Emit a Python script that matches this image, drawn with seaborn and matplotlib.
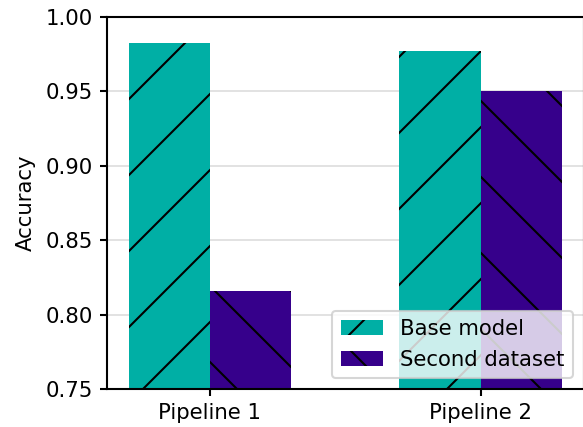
import pandas as pd
import matplotlib
matplotlib.use("Agg")
import matplotlib.pyplot as plt
import seaborn as sns

# dados
pipelines = ["Pipeline 1", "Pipeline 2"]
series = ["Base model", "Second dataset"]
base_acc = [0.9825, 0.977]
second_acc = [0.816, 0.950]
cores = ["#00AFA5", "#36008B"]
hachuras = ["/", "\\"]

df = pd.DataFrame({
    "Pipeline": pipelines * 2,
    "Serie": [series[0]] * 2 + [series[1]] * 2,
    "Accuracy": base_acc + second_acc,
})

DPI = 228
k = 300 / DPI

plt.rcParams.update({
    "font.size": 5.1 * k,
    "axes.linewidth": 0.5 * k,
    "xtick.major.width": 0.5 * k,
    "ytick.major.width": 0.5 * k,
    "xtick.major.size": 1.7 * k,
    "ytick.major.size": 1.7 * k,
    "xtick.major.pad": 1.7 * k,
    "ytick.major.pad": 1.7 * k,
    "hatch.linewidth": 0.5 * k,
    "hatch.color": "black",
})

fig = plt.figure(figsize=(583 / DPI, 427 / DPI), dpi=DPI)
ax = fig.add_axes([0.1835, 0.089, 0.8175, 0.871])

sns.barplot(data=df, x="Pipeline", y="Accuracy", hue="Serie", hue_order=series,
            palette=cores, width=0.6, ax=ax, legend=False, linewidth=0,
            edgecolor="black", saturation=1)

# hachuras por série
for cont, h in zip(ax.containers, hachuras):
    for barra in cont:
        barra.set_hatch(h)

ax.set_xlim(-0.38, 1.38)
ax.set_ylim(0.75, 1.00)
ax.set_yticks([0.75, 0.80, 0.85, 0.90, 0.95, 1.00])
ax.yaxis.set_major_formatter(matplotlib.ticker.FormatStrFormatter("%.2f"))
ax.yaxis.grid(True, color="#dddddd", linewidth=0.4 * k)
ax.set_axisbelow(True)
ax.set_xlabel("")
ax.set_ylabel("Accuracy", labelpad=3.0)

ax.legend(handles=ax.containers, labels=series, loc="lower right",
          handlelength=2.0, borderpad=0.4, labelspacing=0.5,
          framealpha=0.8, fancybox=True)
leg = ax.get_legend()
leg.get_frame().set_linewidth(0.5 * k)

fig.savefig("out.png", dpi=DPI)
